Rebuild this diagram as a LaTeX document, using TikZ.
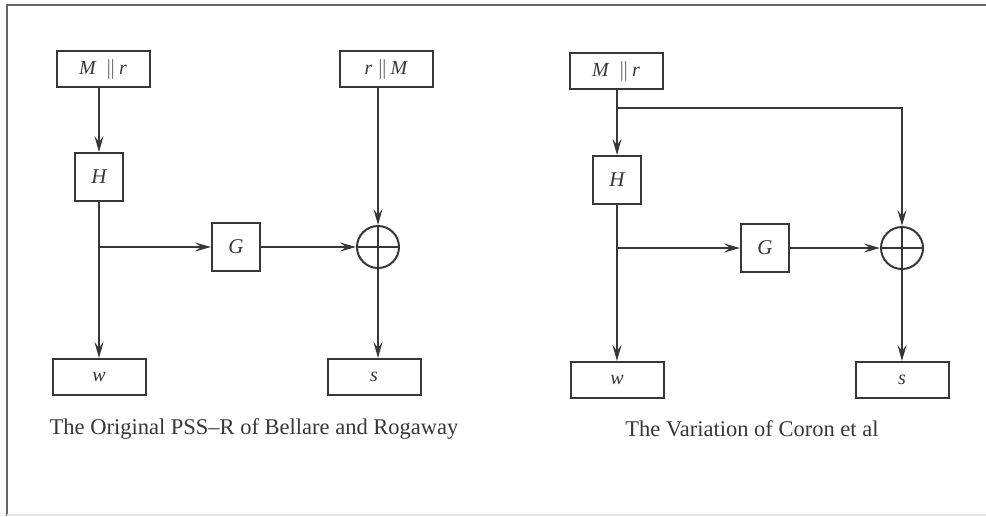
\documentclass[tikz,border=0pt]{standalone}
\usepackage{fontspec}
\setmainfont{Liberation Serif}
\usepackage{tikz}
\usetikzlibrary{arrows.meta,positioning,calc}
\definecolor{ink}{RGB}{55,55,55}

\begin{document}
\begin{tikzpicture}[
    x=0.5pt, y=-0.5pt,
    every path/.style={ink, line width=1pt},
    wbox/.style={draw, minimum width=46.5pt, minimum height=18pt,
                 inner sep=0pt, font=\fontsize{10}{11}\selectfont\itshape},
    sbox/.style={draw, minimum width=24pt, minimum height=24pt,
                 inner sep=0pt, font=\fontsize{10.5}{11}\selectfont\itshape},
    oplus/.style={draw, circle, minimum size=21pt, inner sep=0pt,
                  path picture={
                    \draw (path picture bounding box.north) -- (path picture bounding box.south);
                    \draw (path picture bounding box.west) -- (path picture bounding box.east);}},
    caption/.style={text=ink, font=\fontsize{11.25}{13}\selectfont},
    arr/.style={-{Stealth[length=8pt,width=4.5pt,inset=3pt]}},
  ]
  \useasboundingbox (0,0) rectangle (986,516);
  % frame
  \draw[line width=1pt, gray!80!black] (7,516) -- (7,5) -- (986,5);
  \draw[line width=0.6pt, gray!20] (7,515) -- (986,515);

  % Original PSS-R
  \node[wbox] (mr1) at (103,69) {M\ \ $\|$\,r};
  \node[wbox] (rm1) at (386,69) {r\ $\|$\,M};
  \node[sbox] (h1) at (99,177) {H};
  \node[sbox] (g1) at (236,247) {G};
  \node[oplus] (x1) at (378,247) {};
  \node[wbox] (w1) at (99,377) {w};
  \node[wbox] (s1) at (374,377) {s};
  \node[caption] (cap1) at (254,429) {The Original PSS--R of Bellare and Rogaway};

  \draw[arr] (h1|-mr1.south) -- (h1);
  \draw[arr] (h1) -- (w1);
  \draw[arr] (h1|-g1) -- (g1);
  \draw[arr] (g1) -- (x1);
  \draw[arr] (x1|-rm1.south) -- (x1);
  \draw[arr] (x1) -- (x1|-s1.north);

  % Variation of Coron et al
  \node[wbox] (mr2) at (616,71) {M\ \ $\|$\,r};
  \node[sbox] (h2) at (617,180) {H};
  \node[sbox] (g2) at (765,248) {G};
  \node[oplus] (x2) at (902,248) {};
  \node[wbox] (w2) at (617,380) {w};
  \node[wbox] (s2) at (902,380) {s};
  \node[caption] (cap2) at (752,429) {The Variation of Coron et al};
  \coordinate (split2) at (617,108);

  \draw[arr] (h2|-mr2.south) -- (h2);
  \draw[arr] (split2) -| (x2);
  \draw[arr] (h2) -- (w2);
  \draw[arr] (h2|-g2) -- (g2);
  \draw[arr] (g2) -- (x2);
  \draw[arr] (x2) -- (s2);
\end{tikzpicture}
\end{document}
